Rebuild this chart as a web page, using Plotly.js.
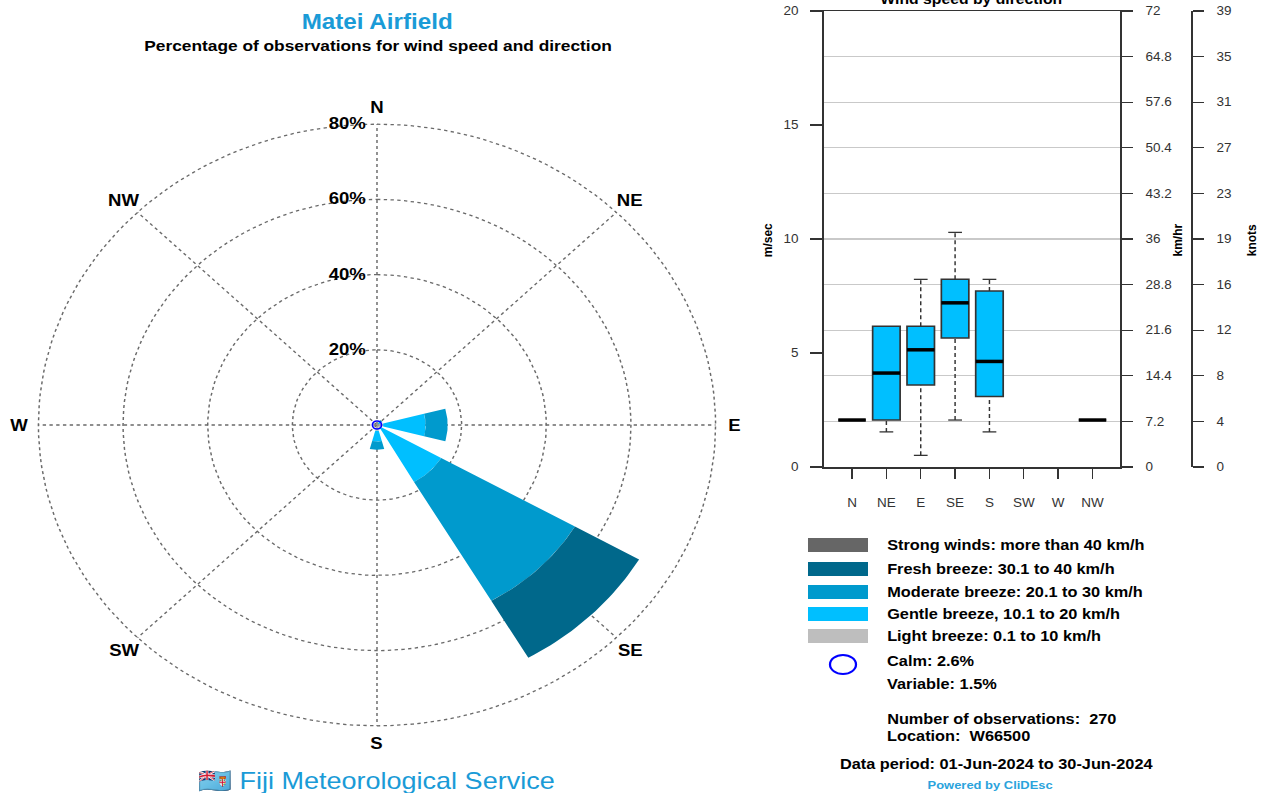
<!DOCTYPE html>
<html>
<head>
<meta charset="utf-8">
<script src="https://cdn.plot.ly/plotly-3.0.1.min.js"></script>
<style>
  html, body { margin: 0; padding: 0; background: #ffffff; overflow: hidden; }
  /* the figure is laid out narrower and widened horizontally, like the station's printed product */
  #chart { width: 1130px; height: 793px; transform: scaleX(1.12566); transform-origin: 0 0; }
</style>
</head>
<body>
<div id="chart"></div>
<script>
// ---- Wind rose data: percentage of observations per direction and speed class ----
const directions = ['N', 'NE', 'E', 'SE', 'S', 'SW', 'W', 'NW'];
const dirAngles = [0, 45, 90, 135, 180, 225, 270, 315];
const speedClasses = [
  'Light breeze: 0.1 to 10 km/h',
  'Gentle breeze, 10.1 to 20 km/h',
  'Moderate breeze: 20.1 to 30 km/h',
  'Fresh breeze: 30.1 to 40 km/h',
  'Strong winds: more than 40 km/h'
];
const classColors = ['#BEBEBE', '#00BFFF', '#009ACD', '#00688B', '#666666'];
const lightPct    = [0.4, 0.4, 1.5, 1.2, 1.6, 0, 0, 0.4];
const gentlePct   = [0, 0.7, 10.0, 16.3, 2.8, 0, 0, 0];
const moderatePct = [0, 0.4, 5.2, 36.5, 2.2, 0, 0, 0];
const freshPct    = [0, 0, 0, 17.5, 0, 0, 0, 0];
const strongPct   = [0, 0, 0, 0, 0, 0, 0, 0];
const ringPct = [20, 40, 60, 80];
const calmPct = 2.6;
const variablePct = 1.5;
const nObs = 270;
const stationId = 'W66500';
const periodText = '01-Jun-2024 to 30-Jun-2024';

// ---- Box plot data: wind speed (m/s) by direction ----
const boxLower  = [2.06, 1.54, 0.51, 2.06, 1.54, null, null, 2.06];
const boxQ1     = [2.06, 2.06, 3.60, 5.66, 3.09, null, null, 2.06];
const boxMedian = [2.06, 4.12, 5.14, 7.20, 4.63, null, null, 2.06];
const boxQ3     = [2.06, 6.17, 6.17, 8.23, 7.72, null, null, 2.06];
const boxUpper  = [2.06, 6.17, 8.23, 10.29, 8.23, null, null, 2.06];
const msTicks = [0, 5, 10, 15, 20];
const gridMs = [0, 2, 4, 6, 8, 10, 12, 14, 16, 18, 20];
const kmhLabels = ['0', '7.2', '14.4', '21.6', '28.8', '36', '43.2', '50.4', '57.6', '64.8', '72'];
const knotLabels = ['0', '4', '8', '12', '16', '19', '23', '27', '31', '35', '39'];

// ---- page geometry helpers (positions given in final, widened pixels) ----
const W = 1272, H = 793;
const INNER_W = 1130;              // layout width before the horizontal widening
const SX = W / INNER_W;
const px = x => x / W;
const py = y => 1 - y / H;
const FONT = 'Liberation Sans, Arial, Helvetica, sans-serif';
const BLUE_TITLE = '#1A9BD7';

// rose frame: centre and pixel scale per percent
const roseCx = 377, roseCy = 425, pctPxY = 3.76, pctPxX = 3.76 * SX;
const roseLeft = 0, roseRight = 754, roseTop = 60, roseBottom = 790;

function polar(r, deg) {
  const a = deg * Math.PI / 180;
  return [r * Math.sin(a), r * Math.cos(a)];
}
function sector(r0, r1, a0, a1) {
  const xs = [], ys = [], n = 24;
  for (let i = 0; i <= n; i++) {
    const p = polar(r1, a0 + (a1 - a0) * i / n); xs.push(p[0]); ys.push(p[1]);
  }
  for (let i = n; i >= 0; i--) {
    const p = polar(r0, a0 + (a1 - a0) * i / n); xs.push(p[0]); ys.push(p[1]);
  }
  xs.push(xs[0]); ys.push(ys[0]);
  return { x: xs, y: ys };
}

const traces = [];

// dotted rings and spokes
const gridLine = { color: '#6a6a6a', width: 1.3, dash: 'dot' };
ringPct.forEach(r => {
  const xs = [], ys = [];
  for (let i = 0; i <= 180; i++) { const p = polar(r, i * 2); xs.push(p[0]); ys.push(p[1]); }
  traces.push({ type: 'scatter', mode: 'lines', x: xs, y: ys, xaxis: 'x2', yaxis: 'y4',
    line: gridLine, hoverinfo: 'skip', showlegend: false });
});
dirAngles.forEach(a => {
  const p = polar(ringPct[ringPct.length - 1], a);
  traces.push({ type: 'scatter', mode: 'lines', x: [0, p[0]], y: [0, p[1]], xaxis: 'x2', yaxis: 'y4',
    line: gridLine, hoverinfo: 'skip', showlegend: false });
});

// stacked wedges, 30 degrees wide, per direction
const classValues = [lightPct, gentlePct, moderatePct, freshPct, strongPct];
directions.forEach((d, i) => {
  let base = 0;
  classValues.forEach((vals, k) => {
    const v = vals[i];
    if (v > 0) {
      const s = sector(base, base + v, dirAngles[i] - 15, dirAngles[i] + 15);
      traces.push({ type: 'scatter', mode: 'lines', x: s.x, y: s.y, xaxis: 'x2', yaxis: 'y4',
        fill: 'toself', fillcolor: classColors[k], line: { width: 0, color: classColors[k] },
        name: speedClasses[k] + ' (' + d + ')', hoverinfo: 'name', showlegend: false });
    }
    base += v;
  });
});

// calm marker at the centre
traces.push({ type: 'scatter', mode: 'markers', x: [0], y: [0], xaxis: 'x2', yaxis: 'y4',
  marker: { symbol: 'circle-open', size: 8, color: '#0000FF', line: { width: 1.6, color: '#0000FF' } },
  hoverinfo: 'skip', showlegend: false });

// ---- box plot ----
const bx = [], bq1 = [], bmed = [], bq3 = [];
directions.forEach((d, i) => {
  if (boxMedian[i] !== null) { bx.push(i + 1); bq1.push(boxQ1[i]); bmed.push(boxMedian[i]); bq3.push(boxQ3[i]); }
});
traces.push({ type: 'box', x: bx, q1: bq1, median: bmed, q3: bq3, lowerfence: bq1, upperfence: bq3,
  width: 0.8, whiskerwidth: 0, fillcolor: '#00BFFF', line: { color: '#333333', width: 1.5 },
  xaxis: 'x', yaxis: 'y', hoverinfo: 'skip', showlegend: false });

// whiskers (dashed) and caps
const wx = [], wy = [], cx = [], cy = [];
directions.forEach((d, i) => {
  if (boxMedian[i] === null) return;
  const x = i + 1;
  if (boxLower[i] < boxQ1[i]) {
    wx.push(x, x, null); wy.push(boxLower[i], boxQ1[i], null);
    cx.push(x - 0.2, x + 0.2, null); cy.push(boxLower[i], boxLower[i], null);
  }
  if (boxUpper[i] > boxQ3[i]) {
    wx.push(x, x, null); wy.push(boxQ3[i], boxUpper[i], null);
    cx.push(x - 0.2, x + 0.2, null); cy.push(boxUpper[i], boxUpper[i], null);
  }
});
traces.push({ type: 'scatter', mode: 'lines', x: wx, y: wy, xaxis: 'x', yaxis: 'y',
  line: { color: '#333333', width: 1.3, dash: '4px,3px' }, hoverinfo: 'skip', showlegend: false });
traces.push({ type: 'scatter', mode: 'lines', x: cx, y: cy, xaxis: 'x', yaxis: 'y',
  line: { color: '#333333', width: 1.3 }, hoverinfo: 'skip', showlegend: false });

// thick median bars
const mx = [], my = [];
bx.forEach((x, j) => { mx.push(x - 0.4, x + 0.4, null); my.push(bmed[j], bmed[j], null); });
traces.push({ type: 'scatter', mode: 'lines', x: mx, y: my, xaxis: 'x', yaxis: 'y',
  line: { color: '#000000', width: 3.5 }, hoverinfo: 'skip', showlegend: false });

// empty traces so the km/hr and knots scales are drawn
traces.push({ type: 'scatter', mode: 'lines', x: [], y: [], xaxis: 'x', yaxis: 'y2', hoverinfo: 'skip', showlegend: false });
traces.push({ type: 'scatter', mode: 'lines', x: [], y: [], xaxis: 'x', yaxis: 'y3', hoverinfo: 'skip', showlegend: false });

// ---- annotations ----
const ann = [];
const txt = (x, y, text, opts) => Object.assign({ x: px(x), y: py(y), xref: 'paper', yref: 'paper',
  text: text, showarrow: false, xanchor: 'center', yanchor: 'middle',
  font: { family: FONT, size: 14, color: '#000' } }, opts || {});

ann.push(txt(377, 22, '<b>Matei Airfield</b>', { font: { family: FONT, size: 21.5, color: BLUE_TITLE } }));
ann.push(txt(378, 46, '<b>Percentage of observations for wind speed and direction</b>', { font: { family: FONT, size: 15.4, color: '#000' } }));
ann.push(txt(377, 780, '\u{1F1EB}\u{1F1EF} Fiji Meteorological Service', { font: { family: FONT, size: 24, color: BLUE_TITLE } }));

// compass labels
directions.forEach((d, i) => {
  const p = polar(84.5, dirAngles[i]);
  ann.push({ x: p[0], y: p[1], xref: 'x2', yref: 'y4', text: '<b>' + d + '</b>', showarrow: false,
    xanchor: 'center', yanchor: 'middle', font: { family: FONT, size: 16.5, color: '#000' } });
});
// ring percentage labels
ringPct.forEach(r => {
  ann.push({ x: 0, y: r, xref: 'x2', yref: 'y4', text: '<b>' + r + '%</b>', showarrow: false,
    xanchor: 'right', yanchor: 'middle', xshift: -8, yshift: 1, font: { family: FONT, size: 16.5, color: '#000' } });
});

// box plot titles
ann.push(txt(972, -1, '<b>Wind speed by direction</b>', { font: { family: FONT, size: 14, color: '#000' } }));
ann.push(txt(768, 240, '<b>m/sec</b>', { textangle: -90, font: { family: FONT, size: 12, color: '#000' } }));
ann.push(txt(1178, 240, '<b>km/hr</b>', { textangle: -90, font: { family: FONT, size: 12, color: '#000' } }));
ann.push(txt(1252, 240, '<b>knots</b>', { textangle: -90, font: { family: FONT, size: 12, color: '#000' } }));

// speed class key
const shapes = [];
const keyRows = [545, 569, 592, 614, 636];
const keyOrder = [4, 3, 2, 1, 0];
keyOrder.forEach((k, j) => {
  const yc = keyRows[j];
  shapes.push({ type: 'rect', xref: 'paper', yref: 'paper', x0: px(808), x1: px(868), y0: py(yc + 7), y1: py(yc - 7),
    fillcolor: classColors[k], line: { width: 0 } });
  ann.push(txt(885, yc, '<b>' + speedClasses[k] + '</b>', { xanchor: 'left', font: { family: FONT, size: 14.5, color: '#000' } }));
});
shapes.push({ type: 'circle', xref: 'paper', yref: 'paper', x0: px(830), x1: px(856), y0: py(674), y1: py(655),
  line: { color: '#0000FF', width: 2 } });
ann.push(txt(885, 661, '<b>Calm: ' + calmPct + '%</b>', { xanchor: 'left', font: { family: FONT, size: 14.5, color: '#000' } }));
ann.push(txt(885, 684, '<b>Variable: ' + variablePct + '%</b>', { xanchor: 'left', font: { family: FONT, size: 14.5, color: '#000' } }));
ann.push(txt(885, 719, '<b>Number of observations:  ' + nObs + '</b>', { xanchor: 'left', font: { family: FONT, size: 14.5, color: '#000' } }));
ann.push(txt(885, 736, '<b>Location:  ' + stationId + '</b>', { xanchor: 'left', font: { family: FONT, size: 14.5, color: '#000' } }));
ann.push(txt(996, 764, '<b>Data period: ' + periodText + '</b>', { font: { family: FONT, size: 14.5, color: '#000' } }));
ann.push(txt(991, 785, '<b>Powered by CliDEsc</b>', { font: { family: FONT, size: 11.5, color: '#2AA3DC' } }));

const axisFont = { family: FONT, size: 12, color: '#333' };
const layout = {
  width: INNER_W, height: H,
  margin: { l: 0, r: 0, t: 0, b: 0 },
  paper_bgcolor: '#ffffff', plot_bgcolor: 'rgba(0,0,0,0)',
  showlegend: false,
  xaxis: { domain: [px(824), px(1120)], range: [0.184, 8.8], anchor: 'y',
    tickmode: 'array', tickvals: directions.map((d, i) => i + 1), ticktext: directions,
    ticks: 'outside', ticklen: 10, tickwidth: 1.2, tickcolor: '#333', ticklabelstandoff: 14,
    showline: true, linecolor: '#333', linewidth: 1.5, mirror: true,
    showgrid: false, zeroline: false, tickfont: axisFont, fixedrange: true },
  yaxis: { domain: [py(467), py(11)], range: [0, 20], anchor: 'x',
    tickmode: 'array', tickvals: msTicks, ticks: 'outside', ticklen: 10.7, tickwidth: 1.3, tickcolor: '#333',
    ticklabelstandoff: 8, showline: true, linecolor: '#333', linewidth: 1.6,
    showgrid: false, zeroline: false, tickfont: axisFont, fixedrange: true },
  yaxis2: { overlaying: 'y', side: 'right', anchor: 'x', range: [0, 20],
    tickmode: 'array', tickvals: gridMs, ticktext: kmhLabels, ticks: 'outside', ticklen: 9.8, tickwidth: 1.3, tickcolor: '#333',
    ticklabelstandoff: 9, showline: true, linecolor: '#333', linewidth: 1.4,
    showgrid: true, gridcolor: '#c9c9c9', gridwidth: 1.2, zeroline: false, tickfont: axisFont, fixedrange: true },
  yaxis3: { overlaying: 'y', side: 'right', anchor: 'free', position: px(1191), range: [0, 20],
    tickmode: 'array', tickvals: gridMs, ticktext: knotLabels, ticks: 'outside', ticklen: 9.8, tickwidth: 1.3, tickcolor: '#333',
    ticklabelstandoff: 9, showline: true, linecolor: '#333', linewidth: 1.4,
    showgrid: false, zeroline: false, tickfont: axisFont, fixedrange: true },
  xaxis2: { domain: [px(roseLeft), px(roseRight)], anchor: 'y4',
    range: [(roseLeft - roseCx) / (pctPxX), (roseRight - roseCx) / (pctPxX)], visible: false, fixedrange: true },
  yaxis4: { domain: [py(roseBottom), py(roseTop)], anchor: 'x2',
    range: [(roseCy - roseBottom) / pctPxY, (roseCy - roseTop) / pctPxY], visible: false, fixedrange: true },
  annotations: ann,
  shapes: shapes
};

Plotly.newPlot('chart', traces, layout, { displayModeBar: false, staticPlot: true });
</script>
</body>
</html>
